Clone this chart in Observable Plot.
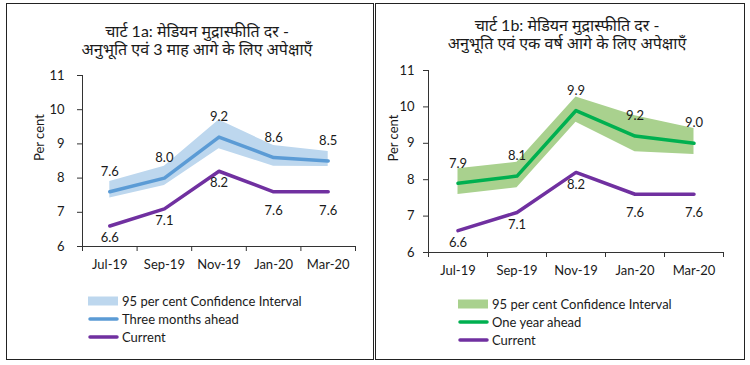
<!DOCTYPE html>
<html><head><meta charset="utf-8">
<script src="https://cdn.jsdelivr.net/npm/d3@7"></script>
<script src="https://cdn.jsdelivr.net/npm/@observablehq/plot@0.6"></script>
<style>
body{margin:0;background:#fff;}
#wrap{position:relative;width:750px;height:365px;overflow:hidden;font-family:Lato,"Noto Sans",sans-serif;color:#1a1a1a;background:#fff}
.panel{position:absolute;border:1px solid #222;box-sizing:border-box}
.title{position:absolute;text-align:center;font-size:16px;line-height:18px;white-space:nowrap}
.chart{position:absolute;top:0}
.legend{position:absolute;font-size:13px;line-height:18px}
.legend div{display:flex;align-items:center;height:18px}
.legend svg{margin-right:3px}
</style></head>
<body><div id="wrap"></div>
<script>
// ---- data ----
const months = ["Jul-19", "Sep-19", "Nov-19", "Jan-20", "Mar-20"];
const yTicks = [6, 7, 8, 9, 10, 11];
const current = [6.6, 7.1, 8.2, 7.6, 7.6];
const threeMonths = [7.6, 8.0, 9.2, 8.6, 8.5];
const threeMonthsLo = [7.42, 7.78, 8.86, 8.35, 8.34];
const threeMonthsHi = [7.90, 8.35, 9.70, 8.95, 8.78];
const oneYear = [7.9, 8.1, 9.9, 9.2, 9.0];
const oneYearLo = [7.59, 7.78, 9.58, 8.77, 8.69];
const oneYearHi = [8.30, 8.48, 10.27, 9.76, 9.41];

const titles = {
  a: ["चार्ट 1a: मेडियन मुद्रास्फीति दर -", "अनुभूति एवं 3 माह आगे के लिए अपेक्षाएँ"],
  b: ["चार्ट 1b: मेडियन मुद्रास्फीति दर -", "अनुभूति एवं एक वर्ष आगे के लिए अपेक्षाएँ"]
};
const legendA = ["95 per cent Confidence Interval", "Three months ahead", "Current"];
const legendB = ["95 per cent Confidence Interval", "One year ahead", "Current"];

const C = {blueBand: "#bdd7ee", blue: "#5b9bd5", greenBand: "#a9d18e", green: "#00b050", purple: "#7030a0", text: "#1a1a1a"};

const wrap = document.getElementById("wrap");

function makeChart(cfg) {
  const idx = months.map((_, i) => i);
  const rows = idx.map(i => ({i, cur: current[i], ah: cfg.ahead[i], lo: cfg.lo[i], hi: cfg.hi[i]}));
  const chart = Plot.plot({
    width: 375, height: 290,
    marginLeft: cfg.ml, marginRight: cfg.mr, marginTop: cfg.mt, marginBottom: cfg.mb,
    style: {fontFamily: "Lato, 'Noto Sans', sans-serif", fontSize: "13px", color: C.text, background: "transparent", overflow: "visible"},
    x: {type: "linear", domain: [-0.5, 4.5], axis: null, label: null},
    y: {domain: [6, 11], axis: null, label: null},
    marks: [
      Plot.areaY(rows, {x: "i", y1: "lo", y2: "hi", fill: cfg.band, fillOpacity: 1}),
      Plot.line(rows, {x: "i", y: "ah", stroke: cfg.color, strokeWidth: 3.5, strokeLinejoin: "round", strokeLinecap: "round"}),
      Plot.line(rows, {x: "i", y: "cur", stroke: C.purple, strokeWidth: 3.5, strokeLinejoin: "round", strokeLinecap: "round"}),
      Plot.text(rows, {x: "i", y: "ah", text: d => d.ah.toFixed(1), dy: -20, fontSize: 13, fill: C.text}),
      Plot.text(rows.filter(d => d.i < 3), {x: "i", y: "cur", text: d => d.cur.toFixed(1), dy: 12, fontSize: 13, fill: C.text}),
      Plot.text(rows.filter(d => d.i >= 3), {x: "i", y: "cur", text: d => d.cur.toFixed(1), dy: 19, fontSize: 13, fill: C.text}),
      Plot.ruleX([-0.5], {stroke: "#333", strokeWidth: 1}),
      Plot.ruleY([6], {stroke: "#333", strokeWidth: 1}),
      Plot.axisY({ticks: yTicks, tickSize: 5, tickPadding: cfg.ytp, tickFormat: d => String(d), stroke: "#333", fontSize: 13, label: null}),
      Plot.axisX({ticks: [-0.5, 0.5, 1.5, 2.5, 3.5, 4.5], tickSize: 5, tickFormat: () => "", stroke: "#333", label: null}),
      Plot.axisX({ticks: idx, tickSize: 0, tickPadding: 13, tickFormat: i => months[i], fontSize: 13, label: null}),
      Plot.text(["Per cent"], {frameAnchor: "left", rotate: -90, dx: cfg.labelDx, fontSize: 13, fill: C.text})
    ]
  });
  chart.classList.add("chart");
  chart.style.left = cfg.left + "px";
  return chart;
}

function panel(left, top, w, h) {
  const d = document.createElement("div");
  d.className = "panel";
  Object.assign(d.style, {left: left + "px", top: top + "px", width: w + "px", height: h + "px"});
  wrap.appendChild(d);
}
function title(lines, cx, top) {
  lines.forEach((t, k) => {
    const d = document.createElement("div");
    d.className = "title";
    d.textContent = t;
    Object.assign(d.style, {left: (cx - 200) + "px", width: "400px", top: (top + k * 18) + "px"});
    wrap.appendChild(d);
  });
}
function swatch(kind, color) {
  const ns = "http://www.w3.org/2000/svg";
  const s = document.createElementNS(ns, "svg");
  s.setAttribute("width", 31); s.setAttribute("height", 12);
  if (kind === "band") {
    const r = document.createElementNS(ns, "rect");
    r.setAttribute("x", 0); r.setAttribute("y", 1.5); r.setAttribute("width", 30); r.setAttribute("height", 9);
    r.setAttribute("fill", color); s.appendChild(r);
  } else {
    const l = document.createElementNS(ns, "line");
    l.setAttribute("x1", 2); l.setAttribute("x2", 29); l.setAttribute("y1", 6); l.setAttribute("y2", 6);
    l.setAttribute("stroke", color); l.setAttribute("stroke-width", 3.5); l.setAttribute("stroke-linecap", "round");
    s.appendChild(l);
  }
  return s;
}
function legend(labels, colors, left, top) {
  const d = document.createElement("div");
  d.className = "legend";
  Object.assign(d.style, {left: left + "px", top: top + "px"});
  labels.forEach((t, k) => {
    const row = document.createElement("div");
    row.appendChild(swatch(k === 0 ? "band" : "line", colors[k]));
    row.appendChild(document.createTextNode(t));
    d.appendChild(row);
  });
  wrap.appendChild(d);
}

panel(6, 3, 368, 357);
panel(375, 3, 370, 357);

wrap.appendChild(makeChart({left: 0, ml: 82, mr: 20, mt: 75, mb: 44, ytp: 13, labelDx: -43,
  ahead: threeMonths, lo: threeMonthsLo, hi: threeMonthsHi, band: C.blueBand, color: C.blue}));
wrap.appendChild(makeChart({left: 375, ml: 53, mr: 27, mt: 70, mb: 38, ytp: 9, labelDx: -35,
  ahead: oneYear, lo: oneYearLo, hi: oneYearHi, band: C.greenBand, color: C.green}));

title(titles.a, 197, 22);
title(titles.b, 567, 16);
legend(legendA, [C.blueBand, C.blue, C.purple], 88, 292);
legend(legendB, [C.greenBand, C.green, C.purple], 458, 295);
</script></body></html>
